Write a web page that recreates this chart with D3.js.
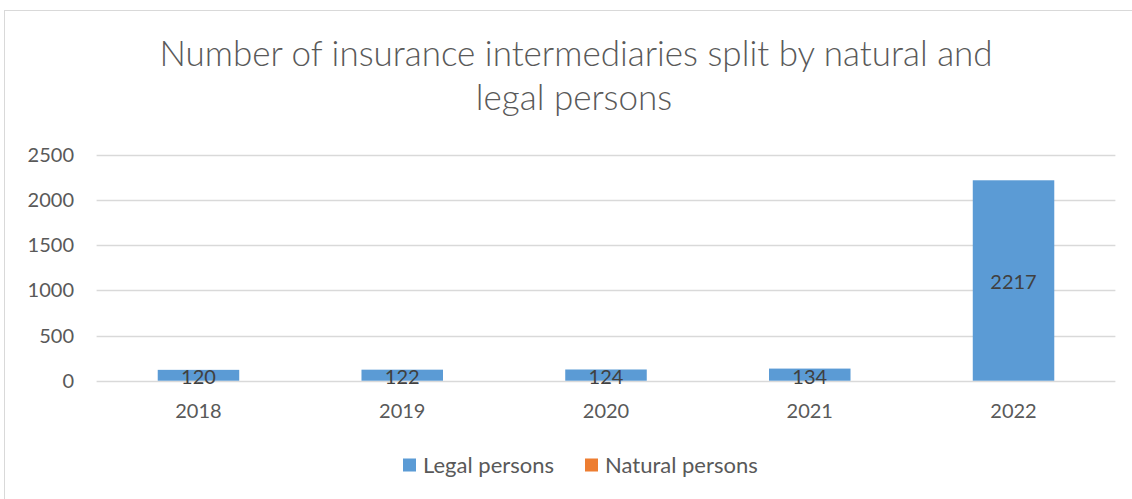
<!DOCTYPE html>
<html>
<head>
<meta charset="utf-8">
<script src="https://cdn.jsdelivr.net/npm/d3@7"></script>
<style>
  body { margin: 0; background: #fff; }
  text { font-family: Lato, "Open Sans", sans-serif; fill: #595959; }
</style>
</head>
<body>
<div id="viz"></div>
<script>
// data
const years = ["2018", "2019", "2020", "2021", "2022"]
const legalPersons = [120, 122, 124, 134, 2217]
const naturalPersons = [0, 0, 0, 0, 0]
const yTicks = [0, 500, 1000, 1500, 2000, 2500]
const seriesNames = ["Legal persons", "Natural persons"]
const colors = ["#5B9BD5", "#ED7D31"]

const width = 1132
const height = 499

const svg = d3.select("#viz").append("svg")
  .attr("width", width)
  .attr("height", height)

// chart area border
svg.append("rect")
  .attr("x", 4.5).attr("y", 10.5)
  .attr("width", 1140).attr("height", 500)
  .attr("fill", "none")
  .attr("stroke", "#D9D9D9")

// title
const title = svg.append("text")
  .attr("text-anchor", "middle")
  .style("font-size", "35px")
  .style("font-weight", 300)
title.append("tspan").attr("x", 576).attr("y", 66)
  .text("Number of insurance intermediaries split by natural and")
title.append("tspan").attr("x", 574).attr("y", 110)
  .text("legal persons")

const x = d3.scaleBand()
  .domain(years)
  .range([96.6, 1115.4])

const y = d3.scaleLinear()
  .domain([0, 2500])
  .range([380.7, 154.7])

// gridlines
svg.append("g")
  .selectAll("line")
  .data(yTicks)
  .enter()
  .append("line")
  .attr("x1", 96.6).attr("x2", 1115.4)
  .attr("y1", d => Math.round(y(d)) + 0.5)
  .attr("y2", d => Math.round(y(d)) + 0.5)
  .attr("stroke", "#D9D9D9")
  .attr("stroke-width", 1.3)

// y tick labels
svg.append("g")
  .selectAll("text")
  .data(yTicks)
  .enter()
  .append("text")
  .attr("x", 74)
  .attr("y", d => y(d))
  .attr("dy", "0.35em")
  .attr("text-anchor", "end")
  .style("font-size", "20px")
  .text(d => d)

// stacked bars
const rows = years.map((yr, i) => ({ year: yr, legal: legalPersons[i], natural: naturalPersons[i] }))
const stack = d3.stack().keys(["legal", "natural"])(rows)
const barW = x.bandwidth() * 0.4

svg.append("g")
  .selectAll("g")
  .data(stack)
  .enter()
  .append("g")
  .attr("fill", (d, i) => colors[i])
  .selectAll("rect")
  .data(d => d)
  .enter()
  .append("rect")
  .attr("x", d => x(d.data.year) + x.bandwidth() / 2 - barW / 2)
  .attr("y", d => y(d[1]))
  .attr("width", barW)
  .attr("height", d => y(d[0]) - y(d[1]))

// data labels
svg.append("g")
  .selectAll("text")
  .data(rows)
  .enter()
  .append("text")
  .attr("x", d => x(d.year) + x.bandwidth() / 2)
  .attr("y", d => (y(0) + y(d.legal)) / 2 + 2)
  .attr("dy", "0.35em")
  .attr("text-anchor", "middle")
  .style("font-size", "20px")
  .style("fill", "#404040")
  .text(d => d.legal)

// x labels
svg.append("g")
  .selectAll("text")
  .data(years)
  .enter()
  .append("text")
  .attr("x", d => x(d) + x.bandwidth() / 2)
  .attr("y", 411)
  .attr("dy", "0.35em")
  .attr("text-anchor", "middle")
  .style("font-size", "20px")
  .text(d => d)

// legend
const legendX = [403, 585]
const legend = svg.append("g")
  .selectAll("g")
  .data(seriesNames)
  .enter()
  .append("g")
  .attr("transform", (d, i) => `translate(${legendX[i]},465)`)
legend.append("rect")
  .attr("x", 0).attr("y", -6.5)
  .attr("width", 13).attr("height", 13)
  .attr("fill", (d, i) => colors[i])
legend.append("text")
  .attr("x", 20)
  .attr("dy", "0.35em")
  .style("font-size", "22px")
  .text(d => d)
</script>
</body>
</html>
